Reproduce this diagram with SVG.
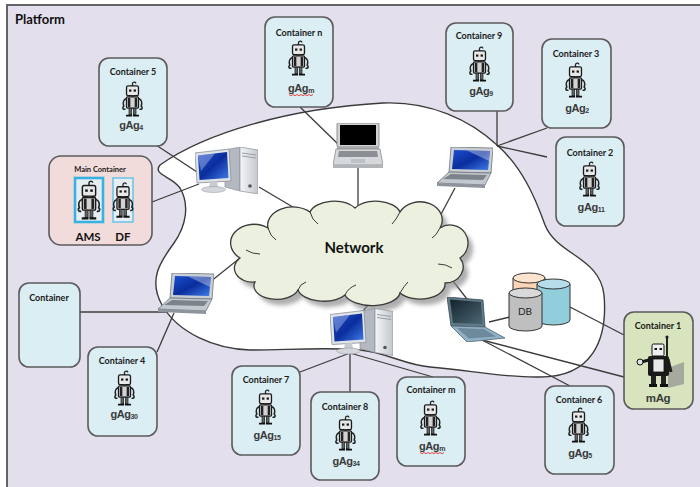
<svg xmlns="http://www.w3.org/2000/svg" width="700" height="487" viewBox="0 0 700 487">
<style>
  .box{fill:#dbeef4;stroke:#5b5b5b;stroke-width:1.6}
  .title{font-family:Lato,"Liberation Sans",sans-serif;font-weight:bold;font-size:9px;fill:#1a1a1a;text-anchor:middle}
  .ag{font-family:"Liberation Sans",Arial,sans-serif;font-weight:bold;font-size:11px;fill:#3a3a3a;text-anchor:middle;letter-spacing:-0.4px}
  .sub{font-size:7px}
  .link{stroke:#3c3c3c;stroke-width:1.3;fill:none}
  .edge{stroke:#6f757c;stroke-width:0.8}
  .squig{fill:none;stroke:#e02020;stroke-width:0.8}
</style>
<defs>
  <linearGradient id="scrBlue" x1="0" y1="0" x2="1" y2="1">
    <stop offset="0" stop-color="#1d4fd0"/>
    <stop offset="0.5" stop-color="#0a2d9c"/>
    <stop offset="1" stop-color="#3f7de8"/>
  </linearGradient>
  <linearGradient id="scrDark" x1="0" y1="0" x2="1" y2="1">
    <stop offset="0" stop-color="#14232b"/>
    <stop offset="1" stop-color="#4b6775"/>
  </linearGradient>
  <linearGradient id="tower" x1="0" y1="0" x2="1" y2="0">
    <stop offset="0" stop-color="#f4f5f7"/>
    <stop offset="1" stop-color="#c3c7cd"/>
  </linearGradient>
  <filter id="soft" x="-10%" y="-10%" width="130%" height="130%">
    <feGaussianBlur stdDeviation="2.2"/>
  </filter>

  <!-- small agent robot -->
  <symbol id="robot" viewBox="0 0 20 34">
    <path d="M10,5 V2.5 C10,0.5 13,0.5 13,2.2" fill="none" stroke="#222" stroke-width="1.2"/>
    <rect x="4.5" y="4.5" width="11" height="9" rx="1.5" fill="#e8e8e8" stroke="#1a1a1a" stroke-width="1.2"/>
    <rect x="6.8" y="7.8" width="2.2" height="2" fill="#1a1a1a"/>
    <rect x="11" y="7.8" width="2.2" height="2" fill="#1a1a1a"/>
    <rect x="8.5" y="13.5" width="3" height="1.5" fill="#555"/>
    <rect x="4.5" y="14.5" width="11" height="10.5" rx="1" fill="#d2d2d2" stroke="#1a1a1a" stroke-width="1.2"/>
    <rect x="5.8" y="15.5" width="2.2" height="8.5" fill="#222"/>
    <rect x="12" y="15.5" width="2.2" height="8.5" fill="#222"/>
    <path d="M4.5,16 C1.5,17 1,20 2,23 C0.5,24 1,26.8 3.5,25.8" fill="none" stroke="#222" stroke-width="1.4"/>
    <path d="M15.5,16 C18.5,17 19,20 18,23 C19.5,24 19,26.8 16.5,25.8" fill="none" stroke="#222" stroke-width="1.4"/>
    <rect x="6.8" y="25" width="2.4" height="6" fill="#666" stroke="#222" stroke-width="0.7"/>
    <rect x="10.8" y="25" width="2.4" height="6" fill="#666" stroke="#222" stroke-width="0.7"/>
    <path d="M4,31.8 H9.6 M10.4,31.8 H16" stroke="#111" stroke-width="1.8"/>
  </symbol>

  <!-- laptop with blue screen, seen from the front-left -->
  <symbol id="laptopBlue" viewBox="0 0 56 42">
    <path d="M14,0 L56,1 L54,26 L12,25 Z" fill="#c9ced4" class="edge"/>
    <path d="M17,3 L53,4 L51,23 L15,22 Z" fill="url(#scrBlue)"/>
    <path d="M30,3.4 L53,4 L52,14 Z" fill="#ffffff" opacity="0.35"/>
    <path d="M12,25 L54,26 L48,38 L0,36 Z" fill="#c3c8ce" class="edge"/>
    <path d="M14,27 L50,28 L46,33 L6,32 Z" fill="#7d838a"/>
    <path d="M0,36 L48,38 L48,41 L0,39 Z" fill="#8e949b"/>
  </symbol>

  <!-- laptop with black screen, front view -->
  <symbol id="laptopBlack" viewBox="0 0 50 46">
    <rect x="4" y="0" width="42" height="24" rx="1" fill="#d0d3d6" stroke="#7a7a7a" stroke-width="0.8"/>
    <rect x="7" y="2" width="36" height="20" fill="#000"/>
    <rect x="4" y="24" width="42" height="2" fill="#a9acaf"/>
    <path d="M3,26 L47,26 L50,42 L0,42 Z" fill="#d6d9dc" stroke="#8a8a8a" stroke-width="0.8"/>
    <path d="M6,28 L44,28 L45,34 L5,34 Z" fill="#8b8f93"/>
    <rect x="18" y="36" width="14" height="4" fill="#bfc2c5"/>
    <rect x="0" y="42" width="50" height="3" fill="#b3b6b9"/>
  </symbol>

  <!-- laptop with dark screen, seen from the front-right -->
  <symbol id="laptopDark" viewBox="0 0 58 45">
    <path d="M0,0 L36,3 L38,30 L4,29 Z" fill="#5f7a88" stroke="#3a4a52" stroke-width="0.8"/>
    <path d="M3,2.5 L34,5 L35.5,27 L6,26 Z" fill="url(#scrDark)"/>
    <path d="M4,29 L38,30 L58,41 L20,45 Z" fill="#91b2c6" stroke="#506470" stroke-width="0.8"/>
    <path d="M10,31 L37,32 L49,39.5 L22,41.5 Z" fill="#6d8a9c"/>
  </symbol>

  <!-- desktop computer: monitor and tower -->
  <symbol id="desktop" viewBox="0 0 63 47">
    <path d="M30,3 L45,0 L45,44 L30,40 Z" fill="#b4b9c1" stroke="#8a9099" stroke-width="0.7"/>
    <path d="M45,0 L63,3 L63,47 L45,44 Z" fill="url(#tower)" stroke="#8a9099" stroke-width="0.7"/>
    <path d="M47,6 L61,8 M47,9 L61,11" stroke="#9aa0a8" stroke-width="1"/>
    <circle cx="55" cy="39" r="1.8" fill="#555"/>
    <path d="M0,6 L34,2 L36,34 L2,36 Z" fill="#dfe3e8" stroke="#8a9099" stroke-width="0.8"/>
    <path d="M3,8.5 L32,5 L33.5,31 L4.5,33 Z" fill="url(#scrBlue)"/>
    <path d="M3,8.5 L20,6.5 L6,24 Z" fill="#ffffff" opacity="0.3"/>
    <path d="M15,35 L22,34.5 L23,40 L14,40.5 Z" fill="#c7ccd2"/>
    <ellipse cx="18.5" cy="42.5" rx="12" ry="3" fill="#d3d7dc" stroke="#9aa0a8" stroke-width="0.6"/>
  </symbol>
</defs>

<!-- platform frame -->
<rect x="0" y="0" width="700" height="487" fill="#ffffff"/>
<rect x="7" y="5" width="700" height="490" fill="#e4dfec" stroke="#555" stroke-width="1.8"/>
<text x="15" y="24" font-family="Lato,'Liberation Sans',sans-serif" font-weight="bold" font-size="13" fill="#111">Platform</text>

<!-- network area -->
<path id="area" d="M160,165 C205,133 290,108 383,103 C430,101 470,120 497,145 C522,167 535,197 545,225 C557,255 600,257 604,295 C608,340 592,377 540,377 C505,378 468,370 430,367 C405,365 385,352 360,350 C330,347 285,350 250,350 C215,349 178,333 162,305 C148,280 160,262 174,243 C186,226 190,205 180,188 C172,176 152,175 160,165 Z" fill="#ffffff" stroke="#3a3a3a" stroke-width="1.4"/>

<!-- connectors -->
<g id="connectors" class="link">
  <line x1="156" y1="145" x2="197" y2="172"/>
  <line x1="152" y1="202" x2="199" y2="184"/>
  <line x1="259" y1="187" x2="308" y2="216"/>
  <line x1="300" y1="107" x2="339" y2="145"/>
  <line x1="358" y1="168" x2="358" y2="209"/>
  <line x1="455" y1="188" x2="439" y2="218"/>
  <line x1="497" y1="111" x2="497" y2="146"/>
  <line x1="497" y1="146" x2="547" y2="128"/>
  <line x1="497" y1="146" x2="547" y2="157"/>
  <line x1="80" y1="312" x2="168" y2="312"/>
  <line x1="157" y1="352" x2="174" y2="313"/>
  <line x1="200" y1="290" x2="240" y2="258"/>
  <line x1="387" y1="283" x2="363" y2="311"/>
  <line x1="350" y1="353" x2="300" y2="372"/>
  <line x1="350" y1="353" x2="350" y2="392"/>
  <line x1="350" y1="353" x2="433" y2="377"/>
  <line x1="442" y1="267" x2="467" y2="299"/>
  <line x1="489" y1="322" x2="510" y2="317"/>
  <line x1="570" y1="307" x2="624" y2="335"/>
  <line x1="482" y1="340" x2="624" y2="377"/>
  <line x1="482" y1="340" x2="570" y2="386"/>
</g>

<!-- network cloud -->
<g id="network">
  <path d="M255,282 A18 14 0 0 1 240,258 A20 16 0 0 1 268,228 A25 18 0 0 1 310,212 A25 15 0 0 1 355,208 A25 15 0 0 1 400,212 A22 18 0 0 1 440,228 A18 18 0 0 1 460,258 A18 16 0 0 1 445,283 A25 15 0 0 1 400,293 A28 14 0 0 1 345,295 A26 14 0 0 1 298,290 A22 13 0 0 1 255,282 Z" fill="#8c8c8c" opacity="0.7" transform="translate(5,6)" filter="url(#soft)"/>
  <path d="M255,282 A18 14 0 0 1 240,258 A20 16 0 0 1 268,228 A25 18 0 0 1 310,212 A25 15 0 0 1 355,208 A25 15 0 0 1 400,212 A22 18 0 0 1 440,228 A18 18 0 0 1 460,258 A18 16 0 0 1 445,283 A25 15 0 0 1 400,293 A28 14 0 0 1 345,295 A26 14 0 0 1 298,290 A22 13 0 0 1 255,282 Z" fill="#ebf1de" stroke="#3a3a3a" stroke-width="1.3"/>
  <path d="M246,250 Q252,254 260,254 M268,228 Q270,236 276,240 M310,212 Q312,220 318,224 M400,212 Q396,220 392,224 M440,228 Q436,236 432,238 M452,268 Q446,264 438,264 M400,293 Q404,286 408,282 M345,295 Q348,288 356,285 M298,290 Q300,284 306,282" fill="none" stroke="#3a3a3a" stroke-width="1"/>
  <text x="354" y="253" font-family="Lato,'Liberation Sans',sans-serif" font-weight="bold" font-size="15" fill="#111" text-anchor="middle">Network</text>
</g>

<!-- devices -->
<g id="pc-upper"><use href="#desktop" x="195" y="147" width="63" height="47"/></g>
<g id="laptop-top"><use href="#laptopBlack" x="333" y="123" width="50" height="46"/></g>
<g id="laptop-right"><use href="#laptopBlue" x="437" y="147" width="56" height="42"/></g>
<g id="laptop-left"><use href="#laptopBlue" x="158" y="273" width="56" height="42"/></g>
<g id="pc-lower"><use href="#desktop" x="330" y="307" width="63" height="50"/></g>
<g id="laptop-db"><use href="#laptopDark" x="447" y="297" width="58" height="45"/></g>

<!-- database -->
<g id="db">
  <path d="M513,278 V302 A16 5 0 0 0 545,302 V278" fill="#fbd5b5" stroke="#333" stroke-width="1"/>
  <ellipse cx="529" cy="278" rx="16" ry="5" fill="#fde4cf" stroke="#333" stroke-width="1"/>
  <path d="M537,284 V320 A16.5 5 0 0 0 570,320 V284" fill="#92cddc" stroke="#333" stroke-width="1"/>
  <ellipse cx="553.5" cy="284" rx="16.5" ry="5" fill="#b6dde8" stroke="#333" stroke-width="1"/>
  <path d="M509,293 V326 A16.5 5 0 0 0 542,326 V293" fill="#bfbfbf" stroke="#333" stroke-width="1"/>
  <ellipse cx="525.5" cy="293" rx="16.5" ry="5" fill="#d9d9d9" stroke="#333" stroke-width="1"/>
  <text x="525" y="315" font-family="Lato,'Liberation Sans',sans-serif" font-size="10" fill="#222" text-anchor="middle">DB</text>
</g>

<!-- containers -->
<g id="container-5">
  <rect class="box" x="99" y="58" width="68" height="88" rx="10"/>
  <text class="title" x="133" y="75">Container 5</text>
  <use href="#robot" x="121" y="81" width="23" height="37"/>
  <text class="ag" x="131" y="129">gAg<tspan class="sub" dy="1">4</tspan></text>
</g>

<g id="main-container">
  <rect x="49" y="156" width="103" height="89" rx="12" fill="#f2dcdb" stroke="#5b5b5b" stroke-width="1.6"/>
  <text class="title" x="100" y="172" style="font-size:7.5px">Main Container</text>
  <rect x="75" y="178" width="28" height="44" fill="#e6eef3" stroke="#3ab1e3" stroke-width="2.6"/>
  <use href="#robot" x="76" y="180" width="26" height="41"/>
  <rect x="113" y="178" width="20" height="44" fill="#e6eef3" stroke="#5ec0e8" stroke-width="1.4"/>
  <use href="#robot" x="112" y="181" width="22" height="39"/>
  <text x="88" y="241" font-family="Lato,'Liberation Sans',sans-serif" font-weight="bold" font-size="11.5" fill="#111" text-anchor="middle">AMS</text>
  <text x="123" y="241" font-family="Lato,'Liberation Sans',sans-serif" font-weight="bold" font-size="11.5" fill="#111" text-anchor="middle">DF</text>
</g>

<g id="container-n">
  <rect class="box" x="265" y="17" width="68" height="90" rx="10"/>
  <text class="title" x="299" y="36">Container n</text>
  <use href="#robot" x="287" y="40" width="23" height="37"/>
  <text class="ag" x="301" y="92">gAg<tspan class="sub" dy="1">m</tspan></text>
  <path class="squig" d="M289,94.5 l2,1.2 l2,-1.2 l2,1.2 l2,-1.2 l2,1.2 l2,-1.2 l2,1.2 l2,-1.2 l2,1.2 l2,-1.2 l2,1.2 l2,-1.2"/>
</g>

<g id="container-9">
  <rect class="box" x="446" y="23" width="67" height="88" rx="10"/>
  <text class="title" x="479" y="39">Container 9</text>
  <use href="#robot" x="468" y="46" width="23" height="37"/>
  <text class="ag" x="481" y="95">gAg<tspan class="sub" dy="1">9</tspan></text>
</g>

<g id="container-3">
  <rect class="box" x="542" y="39" width="69" height="89" rx="10"/>
  <text class="title" x="576" y="57">Container 3</text>
  <use href="#robot" x="564" y="62" width="23" height="37"/>
  <text class="ag" x="577" y="112">gAg<tspan class="sub" dy="1">2</tspan></text>
</g>

<g id="container-2">
  <rect class="box" x="556" y="137" width="68" height="89" rx="10"/>
  <text class="title" x="590" y="156">Container 2</text>
  <use href="#robot" x="578" y="161" width="23" height="37"/>
  <text class="ag" x="591" y="211">gAg<tspan class="sub" dy="1">11</tspan></text>
</g>

<g id="container">
  <rect class="box" x="19" y="283" width="61" height="84" rx="10"/>
  <text class="title" x="49" y="301">Container</text>
</g>

<g id="container-4">
  <rect class="box" x="88" y="347" width="69" height="89" rx="10"/>
  <text class="title" x="122" y="364">Container 4</text>
  <use href="#robot" x="113" y="370" width="23" height="37"/>
  <text class="ag" x="124" y="418">gAg<tspan class="sub" dy="1">30</tspan></text>
</g>

<g id="container-7">
  <rect class="box" x="232" y="366" width="68" height="89" rx="10"/>
  <text class="title" x="266" y="383">Container 7</text>
  <use href="#robot" x="254" y="389" width="23" height="37"/>
  <text class="ag" x="267" y="439">gAg<tspan class="sub" dy="1">15</tspan></text>
</g>

<g id="container-8">
  <rect class="box" x="311" y="392" width="68" height="88" rx="10"/>
  <text class="title" x="345" y="410">Container 8</text>
  <use href="#robot" x="334" y="415" width="23" height="37"/>
  <text class="ag" x="346" y="465">gAg<tspan class="sub" dy="1">34</tspan></text>
</g>

<g id="container-m">
  <rect class="box" x="397" y="377" width="68" height="89" rx="10"/>
  <text class="title" x="431" y="393">Container m</text>
  <use href="#robot" x="419" y="400" width="23" height="37"/>
  <text class="ag" x="432" y="450">gAg<tspan class="sub" dy="1">m</tspan></text>
  <path class="squig" d="M420,452.5 l2,1.2 l2,-1.2 l2,1.2 l2,-1.2 l2,1.2 l2,-1.2 l2,1.2 l2,-1.2 l2,1.2 l2,-1.2 l2,1.2 l2,-1.2"/>
</g>

<g id="container-6">
  <rect class="box" x="545" y="386" width="69" height="88" rx="10"/>
  <text class="title" x="579" y="403">Container 6</text>
  <use href="#robot" x="567" y="407" width="23" height="37"/>
  <text class="ag" x="580" y="457">gAg<tspan class="sub" dy="1">5</tspan></text>
</g>

<g id="container-1">
  <rect x="624" y="312" width="69" height="97" rx="10" fill="#d7e4bd" stroke="#5b5b5b" stroke-width="1.6"/>
  <text class="title" x="658" y="329">Container 1</text>
  <!-- mobile agent robot with its shadow -->
  <path d="M668,368 L684,362 L684,384 L668,388 Z" fill="#8a8a8a" opacity="0.65"/>
  <line x1="667" y1="337" x2="667" y2="356" stroke="#222" stroke-width="2"/>
  <circle cx="667" cy="337" r="1.6" fill="#222"/>
  <rect x="652" y="344" width="12" height="12" rx="1.5" fill="#efefef" stroke="#111" stroke-width="1"/>
  <rect x="654.5" y="348" width="2.5" height="2" fill="#111"/>
  <rect x="659.5" y="348" width="2.5" height="2" fill="#111"/>
  <rect x="648" y="356" width="21" height="20" rx="2" fill="#1a1a1a"/>
  <rect x="653" y="359" width="11" height="13" fill="#e8e8e8" stroke="#111" stroke-width="0.8"/>
  <path d="M649,360 L641,362" stroke="#1a1a1a" stroke-width="3"/>
  <circle cx="640" cy="362" r="3" fill="#e0e0e0" stroke="#111" stroke-width="1"/>
  <path d="M668,359 L671,372" stroke="#1a1a1a" stroke-width="3"/>
  <rect x="651" y="376" width="5" height="9" fill="#222"/>
  <rect x="661" y="376" width="5" height="9" fill="#222"/>
  <rect x="649" y="384" width="8" height="3" fill="#111"/>
  <rect x="660" y="384" width="8" height="3" fill="#111"/>
  <text class="ag" x="658" y="402" style="font-size:11.5px">mAg</text>
</g>
</svg>
